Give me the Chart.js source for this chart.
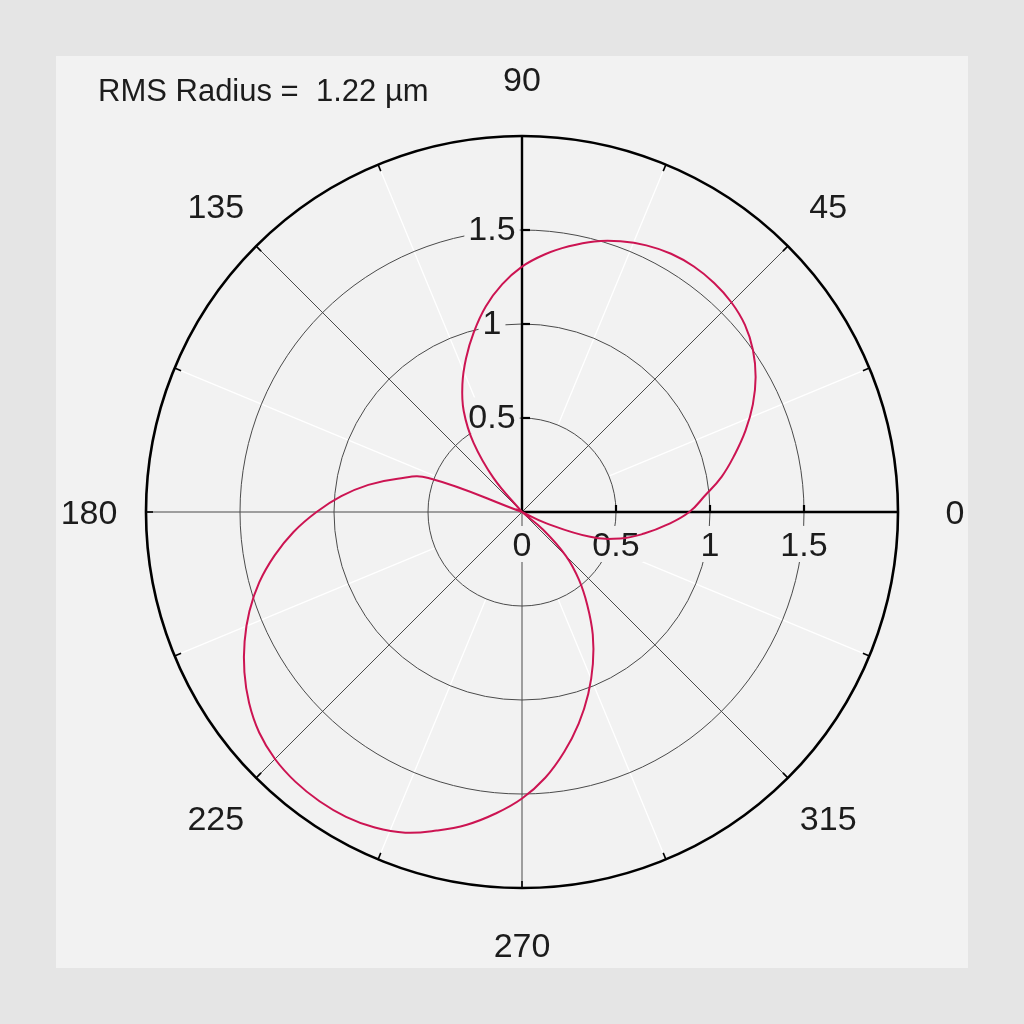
<!DOCTYPE html>
<html>
<head>
<meta charset="utf-8">
<script src="https://cdn.jsdelivr.net/npm/chart.js@4/dist/chart.umd.min.js"></script>
<style>
html,body{margin:0;padding:0;background:#e5e5e5;width:1024px;height:1024px;overflow:hidden;}
#panel{position:absolute;left:56px;top:56px;width:912px;height:912px;background:#f2f2f2;}
#c{position:absolute;left:0;top:0;}
</style>
</head>
<body>
<div id="panel"></div>
<canvas id="c" width="1024" height="1024"></canvas>
<script>
// ---------- data ----------
const titleText = 'RMS Radius =  1.22 µm';

// polar angle (degrees, counter-clockwise from the right)
const anglesDeg = [
  0, 5, 10, 15, 20, 25, 30, 35, 40, 45, 50, 55,
  60, 65, 70, 75, 80, 85, 90, 95, 100, 105, 110, 115,
  120, 125, 130, 135, 140, 145, 150, 155, 160, 165, 170, 175,
  180, 185, 190, 195, 200, 205, 210, 215, 220, 225, 230, 235,
  240, 245, 250, 255, 260, 265, 270, 275, 280, 285, 290, 295,
  300, 305, 310, 315, 320, 325, 330, 335, 340, 345, 350, 355
];

// radius (µm) at each angle above
const radiusUm = [
  0.89, 0.975, 1.078, 1.17, 1.265, 1.355, 1.435, 1.5, 1.548, 1.576, 1.59, 1.594,
  1.586, 1.565, 1.532, 1.49, 1.435, 1.375, 1.305, 1.215, 1.11, 0.99, 0.87, 0.75,
  0.62, 0.45, 0.235, 0, 0, 0, 0, 0, 0.53, 0.685, 0.83, 0.965,
  1.093, 1.22, 1.337, 1.447, 1.543, 1.628, 1.705, 1.772, 1.825, 1.858, 1.874, 1.878,
  1.872, 1.852, 1.815, 1.754, 1.689, 1.61, 1.524, 1.419, 1.295, 1.165, 1.03, 0.892,
  0.753, 0.606, 0.472, 0.33, 0.145, 0, 0, 0.14, 0.386, 0.543, 0.66, 0.775
];

const radialTickValues = [0, 0.5, 1, 1.5];
const radialTickLabels = ['0', '0.5', '1', '1.5'];
const verticalTickValues = [0.5, 1, 1.5];
const verticalTickLabels = ['0.5', '1', '1.5'];
const axisAngles = [0, 45, 90, 135, 180, 225, 270, 315];
const axisAngleLabels = ['0', '45', '90', '135', '180', '225', '270', '315'];
const minorSpokeAngles = [22.5, 67.5, 112.5, 157.5, 202.5, 247.5, 292.5, 337.5];
const rMax = 2;

// ---------- build the radar table (radar runs clockwise, so reverse order) ----------
const n = anglesDeg.length;
const chartAngles = [];
const chartValues = [];
for (let i = 0; i < n; i++) {
  const j = (n - i) % n;
  chartAngles.push(anglesDeg[j]);
  chartValues.push(radiusUm[j]);
}
const stepDeg = 360 / n;

const FONT = '"Liberation Sans", Arial, Helvetica, sans-serif';
const TEXT = '#1c1c1c';
const PANEL = '#f2f2f2';
const LABEL_FS = 34;

function idxFor(theta) { return (((360 - theta) % 360) + 360) % 360 / stepDeg; }
function posV(s, theta, v) { return s.getPointPositionForValue(idxFor(theta), v); }
function posD(s, theta, d) { return s.getPointPosition(idxFor(theta), d); }

function labelWithBackdrop(ctx, txt, cx, cy, fs) {
  ctx.font = fs + 'px ' + FONT;
  const w = ctx.measureText(txt).width;
  ctx.fillStyle = PANEL;
  ctx.fillRect(cx - w / 2 - 4, cy - 18, w + 8, 36);
  ctx.fillStyle = TEXT;
  ctx.textAlign = 'center';
  ctx.textBaseline = 'alphabetic';
  ctx.fillText(txt, cx, cy + 0.358 * fs);
}

const polarDecor = {
  id: 'polarDecor',
  beforeDraw(chart) {
    const s = chart.scales.r, ctx = chart.ctx;
    ctx.save();
    ctx.strokeStyle = '#ffffff';
    ctx.lineWidth = 1.3;
    minorSpokeAngles.forEach(a => {
      const p0 = posV(s, a, 0.5), p1 = posV(s, a, rMax);
      ctx.beginPath(); ctx.moveTo(p0.x, p0.y); ctx.lineTo(p1.x, p1.y); ctx.stroke();
    });
    ctx.restore();
  },
  beforeDatasetsDraw(chart) {
    const s = chart.scales.r, ctx = chart.ctx;
    ctx.save();
    // small inward ticks on the outer circle
    ctx.strokeStyle = '#000';
    ctx.lineWidth = 1.6;
    minorSpokeAngles.concat(axisAngles).forEach(a => {
      const p0 = posD(s, a, s.drawingArea), p1 = posD(s, a, s.drawingArea - 7);
      ctx.beginPath(); ctx.moveTo(p0.x, p0.y); ctx.lineTo(p1.x, p1.y); ctx.stroke();
    });
    // ticks on 0° and 90° axes
    ctx.lineWidth = 2.2;
    verticalTickValues.forEach(v => {
      const p = posV(s, 0, v);
      ctx.beginPath(); ctx.moveTo(p.x, p.y); ctx.lineTo(p.x, p.y - 7); ctx.stroke();
      const q = posV(s, 90, v);
      ctx.beginPath(); ctx.moveTo(q.x, q.y); ctx.lineTo(q.x + 8, q.y); ctx.stroke();
    });
    // radial tick labels below the 0° axis
    radialTickValues.forEach((v, k) => {
      const p = posV(s, 0, v);
      labelWithBackdrop(ctx, radialTickLabels[k], p.x, p.y + 32, LABEL_FS);
    });
    // radial tick labels left of the 90° axis
    verticalTickValues.forEach((v, k) => {
      const p = posV(s, 90, v);
      labelWithBackdrop(ctx, verticalTickLabels[k], p.x - 30, p.y - 2.5, LABEL_FS);
    });
    // angle labels
    ctx.fillStyle = TEXT;
    ctx.font = LABEL_FS + 'px ' + FONT;
    ctx.textAlign = 'center';
    ctx.textBaseline = 'alphabetic';
    axisAngles.forEach((a, k) => {
      const p = posD(s, a, s.drawingArea + 57);
      ctx.fillText(axisAngleLabels[k], p.x, p.y + 0.358 * LABEL_FS);
    });
    ctx.restore();
  },
  afterDraw(chart) {
    const ctx = chart.ctx;
    ctx.save();
    ctx.fillStyle = TEXT;
    ctx.font = '31px ' + FONT;
    ctx.textAlign = 'left';
    ctx.textBaseline = 'alphabetic';
    ctx.fillText(titleText, 98, 101);
    ctx.restore();
  }
};

new Chart(document.getElementById('c'), {
  type: 'radar',
  data: {
    labels: chartAngles.map(String),
    datasets: [{
      data: chartValues,
      borderColor: '#cc1452',
      borderWidth: 2,
      pointRadius: 0,
      pointHoverRadius: 0,
      fill: false,
      tension: 0.42
    }]
  },
  options: {
    responsive: false,
    devicePixelRatio: 1,
    animation: false,
    events: [],
    layout: { padding: { left: 146, right: 126, top: 136, bottom: 136 } },
    plugins: { legend: { display: false }, tooltip: { enabled: false }, title: { display: false } },
    scales: {
      r: {
        min: 0,
        max: rMax,
        startAngle: 90,
        ticks: { display: false, stepSize: 0.5 },
        pointLabels: { display: false },
        grid: {
          circular: true,
          color: c => (c.tick && c.tick.value === rMax) ? '#000000' : '#4a4a4a',
          lineWidth: c => (c.tick && c.tick.value === rMax) ? 2.6 : 1
        },
        angleLines: {
          display: true,
          color: c => {
            const th = chartAngles[c.index];
            if (th % 45 !== 0) return 'rgba(0,0,0,0)';
            return (th === 0 || th === 90) ? '#000000' : '#4a4a4a';
          },
          lineWidth: c => {
            const th = chartAngles[c.index];
            if (th % 45 !== 0) return 0;
            return (th === 0 || th === 90) ? 2.4 : 1;
          }
        }
      }
    }
  },
  plugins: [polarDecor]
});
</script>
</body>
</html>
